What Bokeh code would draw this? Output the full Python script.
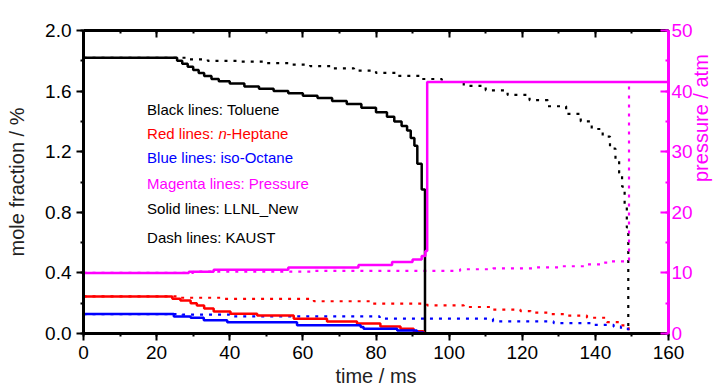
import math
from bokeh.plotting import figure
from bokeh.models import (Range1d, LinearAxis, SingleIntervalTicker, Label, CustomJSTickFormatter)
from bokeh.embed import file_html
from bokeh.resources import INLINE

# ---------------- data (step series, value holds until next time) ----------------
tol_llnl_t = [0, 25.6, 27, 28.5, 30, 31.5, 33, 35, 37, 40, 44, 48, 52, 56, 60, 64, 68, 72, 76, 80,
              83, 85, 87, 88.5, 89.5, 90.5, 91.3, 92.5, 93.4, 160]
tol_llnl_y = [1.82, 1.80, 1.78, 1.76, 1.74, 1.72, 1.70, 1.68, 1.665, 1.65, 1.63, 1.615, 1.60, 1.585,
              1.57, 1.555, 1.535, 1.515, 1.49, 1.46, 1.43, 1.40, 1.37, 1.34, 1.29, 1.24, 1.12, 0.95, 0.0, 0.0]

tol_kaust_t = [0, 28, 34, 42, 50, 56, 62, 68, 74, 80, 86, 92, 98, 104, 110, 116, 122, 127, 132, 136,
               139, 142, 144, 145.5, 146.5, 147.3, 148, 148.6, 149.0, 160]
tol_kaust_y = [1.82, 1.81, 1.80, 1.795, 1.785, 1.775, 1.765, 1.75, 1.735, 1.72, 1.70, 1.68, 1.66, 1.635,
               1.605, 1.575, 1.54, 1.50, 1.45, 1.40, 1.35, 1.30, 1.22, 1.14, 1.06, 0.97, 0.85, 0.70, 0.0, 0.0]

hep_llnl_t = [0, 24.3, 26.5, 29.3, 31, 33, 35.6, 40.2, 47.5, 57.5, 66.6, 74.8, 81.2, 86.7, 90.3, 93.0, 160]
hep_llnl_y = [0.245, 0.23, 0.218, 0.20, 0.185, 0.165, 0.145, 0.13, 0.118, 0.098, 0.08, 0.066, 0.047,
              0.031, 0.015, 0.0, 0.0]

hep_kaust_t = [0, 25.6, 37.5, 63, 78.5, 94, 104, 111.3, 119.5, 122.3, 127, 132.3, 137.7, 143.2, 146.9, 149.1, 160]
hep_kaust_y = [0.245, 0.236, 0.229, 0.213, 0.197, 0.186, 0.175, 0.158, 0.148, 0.138, 0.128, 0.118,
               0.104, 0.075, 0.053, 0.0, 0.0]

oct_llnl_t = [0, 24.7, 29.3, 32.9, 39.3, 58.4, 75.8, 76.6, 85.8, 91.2, 93.0, 160]
oct_llnl_y = [0.128, 0.113, 0.104, 0.087, 0.075, 0.055, 0.043, 0.032, 0.02, 0.007, 0.0, 0.0]

oct_kaust_t = [0, 27, 40, 81, 112, 128.6, 139.5, 145, 147, 149, 160]
oct_kaust_y = [0.128, 0.125, 0.113, 0.098, 0.08, 0.068, 0.057, 0.045, 0.031, 0.0, 0.0]

p_llnl_t = [0, 28.8, 35.6, 56, 75.2, 84.4, 90, 92.5, 93.5, 94.0, 160]
p_llnl_y = [10.0, 10.2, 10.5, 10.9, 11.3, 11.8, 12.2, 12.8, 13.6, 41.5, 41.5]

p_kaust_t = [0, 30, 63, 103, 112, 123, 130, 137.7, 142, 144, 149.2, 160]
p_kaust_y = [10.0, 10.2, 10.35, 10.6, 10.75, 10.9, 11.1, 11.4, 11.7, 11.9, 41.5, 41.5]

legend_lines = ["Black lines: Toluene", None, "Blue lines: iso-Octane",
                "Magenta lines: Pressure", "Solid lines: LLNL_New", "Dash lines: KAUST"]
legend_colors = ["#000000", "#ff0000", "#0000ff", "#ff00ff", "#000000", "#000000"]
legend_y = [1.477, 1.318, 1.164, 0.992, 0.823, 0.636]

# ---------------- figure ----------------
FONT = "Liberation Sans"
BLACK = "#000000"
RED = "#ff0000"
BLUE = "#0000ff"
MAG = "#ff00ff"

p = figure(width=728, height=390, output_backend="svg", toolbar_location=None,
           x_range=Range1d(0, 160), y_range=Range1d(0, 2.0),
           x_axis_label="time / ms", y_axis_label="mole fraction / %",
           min_border_left=83, min_border_right=60, min_border_top=30, min_border_bottom=57)
p.extra_y_ranges = {"pres": Range1d(0, 50)}
p.outline_line_color = None
p.grid.visible = False
p.background_fill_color = "white"

xa = p.xaxis[0]
xa.ticker = SingleIntervalTicker(interval=20, num_minor_ticks=2)
ya = p.yaxis[0]
ya.ticker = SingleIntervalTicker(interval=0.4, num_minor_ticks=2)
ya.formatter = CustomJSTickFormatter(code="return tick.toFixed(1);")

for ax in (xa, ya):
    ax.axis_line_width = 3
    ax.axis_line_color = BLACK
    ax.major_tick_line_width = 2
    ax.minor_tick_line_width = 2
    ax.major_tick_line_color = BLACK
    ax.minor_tick_line_color = BLACK
    ax.major_tick_out = 7
    ax.major_tick_in = 0
    ax.minor_tick_out = 3
    ax.minor_tick_in = 0
    ax.major_label_text_font = FONT
    ax.major_label_text_font_size = "19px"
    ax.major_label_text_color = BLACK
    ax.major_label_standoff = 5
    ax.axis_label_text_font = FONT
    ax.axis_label_text_font_size = "20px"
    ax.axis_label_text_font_style = "normal"
    ax.axis_label_text_color = "#222222"
xa.axis_label_standoff = 3
ya.axis_label_standoff = 14

# top axis (ticks inward, no labels)
top = LinearAxis(ticker=SingleIntervalTicker(interval=20, num_minor_ticks=2))
top.axis_line_width = 3
top.axis_line_color = BLACK
top.major_tick_line_width = 2
top.minor_tick_line_width = 2
top.major_tick_in = 7
top.major_tick_out = 0
top.minor_tick_in = 3
top.minor_tick_out = 0
top.major_label_text_font_size = "0px"
top.major_label_text_alpha = 0
p.add_layout(top, "above")

# right axis (pressure)
ra = LinearAxis(y_range_name="pres", ticker=SingleIntervalTicker(interval=10, num_minor_ticks=2),
                axis_label="pressure / atm")
ra.axis_line_width = 3
ra.axis_line_color = MAG
ra.major_tick_line_color = MAG
ra.minor_tick_line_color = MAG
ra.major_tick_line_width = 2
ra.minor_tick_line_width = 2
ra.major_tick_in = 8
ra.major_tick_out = 0
ra.minor_tick_in = 3
ra.minor_tick_out = 0
ra.major_label_standoff = 3
ra.major_label_text_font = FONT
ra.major_label_text_font_size = "19px"
ra.major_label_text_color = MAG
ra.axis_label_text_font = FONT
ra.axis_label_text_font_size = "20px"
ra.axis_label_text_font_style = "normal"
ra.axis_label_text_color = MAG
ra.axis_label_standoff = 5
try:
    ra.axis_label_orientation = math.pi / 2
except Exception:
    pass
p.add_layout(ra, "right")

# ---------------- series ----------------
DOT = "3 6"
p.step(tol_kaust_t, tol_kaust_y, mode="after", line_color=BLACK, line_width=2.2, line_dash=DOT)
p.step(hep_kaust_t, hep_kaust_y, mode="after", line_color=RED, line_width=2.2, line_dash=DOT)
p.step(oct_kaust_t, oct_kaust_y, mode="after", line_color=BLUE, line_width=2.2, line_dash=DOT)
p.step(p_kaust_t, p_kaust_y, mode="after", line_color=MAG, line_width=2.2, line_dash=DOT,
       y_range_name="pres")
p.step(tol_llnl_t, tol_llnl_y, mode="after", line_color=BLACK, line_width=2.5)
p.step(hep_llnl_t, hep_llnl_y, mode="after", line_color=RED, line_width=2.5)
p.step(oct_llnl_t, oct_llnl_y, mode="after", line_color=BLUE, line_width=2.5)
p.step(p_llnl_t, p_llnl_y, mode="after", line_color=MAG, line_width=2.5, y_range_name="pres")

# ---------------- annotation text ----------------
LX = 17.4
TFS = "15px"
for txt, col, yy in zip(legend_lines, legend_colors, legend_y):
    if txt is None:
        continue
    p.add_layout(Label(x=LX, y=yy, text=txt, text_color=col, text_font=FONT,
                       text_font_size=TFS, text_baseline="middle", text_align="left"))
# red line with italic n
p.add_layout(Label(x=LX, y=legend_y[1], text="Red lines: ", text_color=RED, text_font=FONT,
                   text_font_size=TFS, text_baseline="middle", text_align="left"))
p.add_layout(Label(x=LX, y=legend_y[1], x_offset=71.5, text="n", text_color=RED, text_font=FONT,
                   text_font_style="italic",
                   text_font_size=TFS, text_baseline="middle", text_align="left"))
p.add_layout(Label(x=LX, y=legend_y[1], x_offset=79.5, text="-Heptane", text_color=RED, text_font=FONT,
                   text_font_size=TFS, text_baseline="middle", text_align="left"))

open("out.html", "w").write(file_html(p, INLINE))
